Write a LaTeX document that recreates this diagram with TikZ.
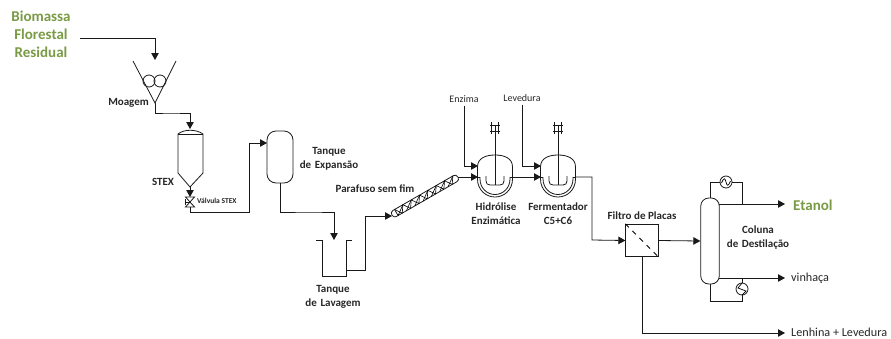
\documentclass[tikz,border=0pt]{standalone}
\usepackage{fontspec}
\setmainfont{Carlito}
\usetikzlibrary{arrows.meta,calc}
\definecolor{oliva}{HTML}{7A9A45}
\tikzset{
  pipe/.style={line width=0.8pt,draw=black!90},
  flow/.style={pipe,-{Triangle[length=7pt,width=7.5pt]}},
  equip/.style={line width=0.8pt,draw=black!90},
  lbl/.style={font=\bfseries\fontsize{11}{14}\selectfont,text=black!85,align=center,inner sep=0pt},
  small lbl/.style={font=\fontsize{10}{12}\selectfont,text=black!85,inner sep=0pt},
  out lbl/.style={font=\fontsize{12.2}{14}\selectfont,text=black!85,anchor=west,inner sep=0pt},
  feed/.style={font=\bfseries\fontsize{15}{18}\selectfont,text=oliva,align=center,inner sep=0pt},
  roll/.style={equip,circle,draw,minimum size=12pt,inner sep=0pt},
  exch/.style={equip,circle,draw,fill=white,minimum size=12pt,inner sep=0pt},
}
\begin{document}
\begin{tikzpicture}[x=1pt,y=-1pt]
\useasboundingbox (0,0) rectangle (891,338);
% ----- ports
\coordinate (feedout) at (80,38);
\coordinate (hopin) at (155,60);
\coordinate (hopout) at (155,103);
\coordinate (stexin) at (190,129);
\coordinate (stexout) at (190,187);
\coordinate (valvetop) at (190,197);
\coordinate (valvebot) at (190,207);
\coordinate (expin) at (267,143);
\coordinate (expout) at (280,183);
\coordinate (lavin) at (334,240);
\coordinate (lavout) at (346,270);
\coordinate (scrin) at (392,216);
\coordinate (scrout) at (458,177);
\coordinate (r1a) at (478,166);
\coordinate (r1b) at (478,177);
\coordinate (r1c) at (513,177);
\coordinate (r2a) at (541,166);
\coordinate (r2b) at (541,177);
\coordinate (r2c) at (576,177);
\coordinate (coltop) at (719,204);
\coordinate (colbot) at (719,278);
\coordinate (etout) at (785,204);
\coordinate (viout) at (785,278);
\coordinate (leout) at (785,333);
% ----- texts
\node[feed] (biomassa) at (41,34) {Biomassa\\Florestal\\Residual};
\node[lbl,anchor=east] (moagem) at (149,103) {Moagem};
\node[lbl] (stex) at (163,182) {STEX};
\node[font=\bfseries\fontsize{7.5}{9}\selectfont,text=black!85,anchor=west,inner sep=0pt] (valvula) at (197,201) {Válvula STEX};
\node[lbl,text width=80pt] (texp) at (329,159) {Tanque\\de Expansão};
\node[lbl] (pfim) at (375,189) {Parafuso sem fim};
\node[lbl,text width=80pt] (tlav) at (333,297) {Tanque\\de Lavagem};
\node[small lbl] (enz) at (464,99) {Enzima};
\node[small lbl] (lev) at (522,98) {Levedura};
\node[lbl,text width=60pt] (hid) at (496,214) {Hidrólise\\Enzimática};
\node[lbl,text width=60pt] (fer) at (558,214) {Fermentador\\C5+C6};
\node[lbl] (filt) at (642,216) {Filtro de Placas};
\node[lbl,text width=80pt] (ccol) at (758,238) {Coluna\\de Destilação};
\node[font=\bfseries\fontsize{15}{17}\selectfont,text=oliva,anchor=west,inner sep=0pt] (etanol) at (793,205) {Etanol};
\node[out lbl] (vin) at (791,278) {vinhaça};
\node[out lbl] (len) at (791,332.5) {Lenhina + Levedura};
% ----- hopper
\draw[equip] (133,61) -- (hopout) -- (176,61);
\node[roll] (ra) at (149,81) {};
\node[roll] (rb) at (160,81) {};
% ----- STEX
\draw[equip] (178,134) .. controls (184,129) and (196,129) .. (203,134) -- (203,173) -- (stexout) -- (178,173) -- cycle;
\draw[equip] (178,134) -- (203,134);
% ----- valve
\draw[equip] (185.5,197) -- (194.5,197) -- (185.5,207) -- (194.5,207) -- cycle;
\draw[equip] (185.5,202) -- (190,202);
\draw[equip] (185.5,199) -- (185.5,205);
% ----- tanks
\draw[equip,rounded corners=9pt] (267,131) rectangle (293,183);
\draw[equip] (316,240) -- (322,240) -- (322,276) -- (346,276) -- (346,240) -- (352,240);
% ----- screw
\begin{scope}[shift={(392,215)},rotate=29.9]
\draw[equip,rounded corners=3pt] (0,-3.5) rectangle (76,3.5);
\draw[line width=0.7pt] (0,0) ++(3,-3.5) arc[start angle=90,end angle=450,radius=0] ;
\draw[line width=0.7pt] (5,-3.5) -- (5,3.5);
\foreach \i in {0,...,6}{\draw[line width=0.6pt] ({5+\i*9.6},3.5) -- ({5+\i*9.6+9.6},-3.5);
 \draw[line width=0.6pt] ({5+\i*9.6},-3.5) -- ({5+\i*9.6+4.8},3.5) -- ({5+\i*9.6+9.6},-3.5);}
\end{scope}
% ----- reactors
\foreach \c in {495,558}{
 \begin{scope}[shift={(\c,0)}]
 \draw[equip] (-17.5,179) -- (-17.5,167) .. controls (-17.5,158) and (-9,155) .. (0,155) .. controls (9,155) and (17.5,158) .. (17.5,167) -- (17.5,179);
 \draw[equip] (-17.5,179) .. controls (-17.5,190) and (-9,197) .. (0,197) .. controls (9,197) and (17.5,190) .. (17.5,179);
 \draw[equip] (-15,177) -- (-15,179) .. controls (-15,188) and (-8,194.5) .. (0,194.5) .. controls (8,194.5) and (15,188) .. (15,179) -- (15,177);
 \draw[equip] (-17.5,177) -- (-15,177) (15,177) -- (17.5,177);
 \draw[equip] (-9,176) -- (-9,181) .. controls (-9,183.5) and (-7.5,185) .. (-5,185) -- (5,185) .. controls (7.5,185) and (9,183.5) .. (9,181) -- (9,176);
 \draw[equip] (0,125) -- (0,185);
 \draw[equip] (-3.5,122) -- (-3.5,134) (3.5,122) -- (3.5,134);
 \draw[equip] (-5,125) -- (5,125) (-5,131) -- (5,131);
 \end{scope}
}
% ----- filter
\node[equip,draw,minimum size=32.5pt,inner sep=0pt] (filter) at (642,240.5) {};
\draw[line width=0.8pt,dash pattern=on 5pt off 5pt] (filter.north west) -- (filter.south east);
% ----- column
\node[equip,draw,rounded corners=8pt,minimum width=18.5pt,minimum height=86pt,inner sep=0pt] (column) at (710,241) {};
% ----- exchangers and connectors
\draw[flow] (feedout) -| (hopin);
\draw[flow] (hopout) |- (170,113) -| (stexin);
\draw[flow] (stexout) -- (valvetop);
\draw[flow] (valvebot) -- (190,212) -- (249,212) -- (249,143) -- (expin);
\draw[flow] (expout) |- (310,212) -| (lavin);
\draw[flow] (lavout) -- (365,270) -- (365,216) -- (scrin);
\draw[flow] (scrout) -- (r1b);
\draw[flow] (enz.south) ++(0,3) -- (464,166) -- (r1a);
\draw[flow] (lev.south) ++(0,3) -- (522,166) -- (r2a);
\draw[flow] (r1c) -- (r2b);
\draw[flow] (r2c) -- (592,177) -- (592,240) -- (filter.west);
\draw[flow] (filter.east) -- (column.west);
\draw[flow] (coltop) -- (etout);
\draw[flow] (colbot) -- (viout);
\draw[flow] (filter.south) |- (leout);
\draw[pipe] (column.north) -- (710,182) -- (742,182) -- (742,204);
\draw[pipe] (column.south) -- (710,301) -- (742,301) -- (742,278);
\node[exch] (cond) at (726,182) {};
\draw[line width=0.7pt] (721.5,183) .. controls (724,177) and (725,178) .. (726,182) .. controls (727,186) and (728,187) .. (730.5,181);
\node[exch] (reb) at (742,289) {};
\draw[line width=0.7pt] (742,283) -- (738,288) -- (746,291) -- (742,295);
\end{tikzpicture}
\end{document}
